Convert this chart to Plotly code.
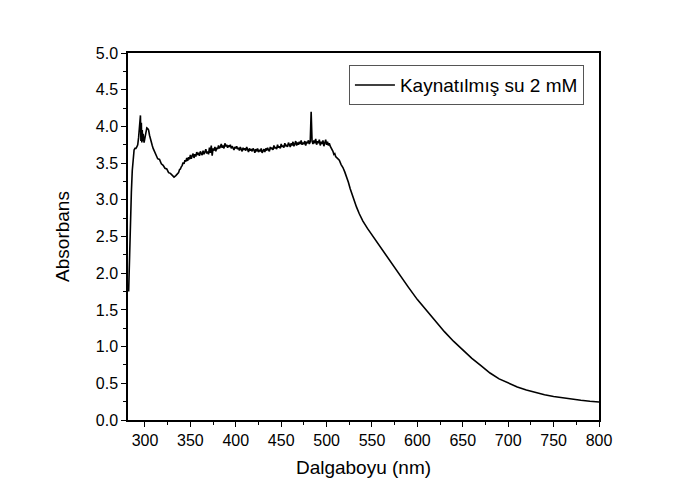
import plotly.graph_objects as go

# Rising edge and first peak region
wl_rise = [282, 283, 284, 285, 286, 287, 288, 289, 290, 291, 292, 293, 294, 295, 295.5, 296, 296.5, 297, 297.5,
           298, 299, 300, 301, 302, 303, 304, 305, 306, 307, 308, 309, 310, 312, 314, 316, 318, 320, 322, 324,
           326, 328, 330, 332, 334]
abs_rise = [1.75, 2.3, 2.8, 3.1, 3.4, 3.62, 3.68, 3.70, 3.70, 3.72, 3.75, 3.85, 4.10, 4.15, 3.80, 4.05, 3.78, 3.95, 3.80,
            3.90, 3.78, 3.85, 3.95, 3.98, 3.97, 3.95, 3.88, 3.82, 3.76, 3.74, 3.70, 3.67, 3.63, 3.56, 3.55, 3.49, 3.47, 3.43, 3.42,
            3.37, 3.36, 3.33, 3.31, 3.33]

# Noisy plateau
wl_plateau = [336, 337, 338, 339, 340, 341, 342, 343, 344, 345,
              346, 347, 348, 349, 350, 351, 352, 353, 354, 355,
              356, 357, 358, 359, 360, 361, 362, 363, 364, 365,
              366, 367, 368, 369, 370, 371, 372, 373, 374, 375,
              376, 377, 378, 379, 380, 381, 382, 383, 384, 385,
              386, 387, 388, 389, 390, 391, 392, 393, 394, 395,
              396, 397, 398, 399, 400, 401, 402, 403, 404, 405,
              406, 407, 408, 409, 410, 411, 412, 413, 414, 415,
              416, 417, 418, 419, 420, 421, 422, 423, 424, 425,
              426, 427, 428, 429, 430, 431, 432, 433, 434, 435,
              436, 437, 438, 439, 440, 441, 442, 443, 444, 445,
              446, 447, 448, 449, 450, 451, 452, 453, 454, 455,
              456, 457, 458, 459, 460, 461, 462, 463, 464, 465,
              466, 467, 468, 469, 470, 471, 472, 473, 474, 475,
              476, 477, 478, 479, 480, 481, 482, 483, 484, 485,
              486, 487, 488, 489, 490, 491, 492, 493, 494, 495,
              496, 497, 498, 499, 500, 501, 502, 503, 504, 505,
              506, 507, 508, 509, 510]
abs_plateau = [3.36, 3.37, 3.41, 3.42, 3.45, 3.47, 3.51, 3.49, 3.54, 3.52,
               3.57, 3.53, 3.58, 3.55, 3.61, 3.56, 3.60, 3.63, 3.57, 3.62,
               3.59, 3.65, 3.61, 3.64, 3.60, 3.66, 3.63, 3.61, 3.67, 3.62,
               3.65, 3.69, 3.63, 3.66, 3.62, 3.71, 3.64, 3.74, 3.60, 3.70,
               3.67, 3.72, 3.66, 3.71, 3.69, 3.74, 3.70, 3.72, 3.76, 3.71,
               3.74, 3.70, 3.77, 3.73, 3.75, 3.71, 3.74, 3.72, 3.75, 3.70,
               3.73, 3.71, 3.68, 3.72, 3.70, 3.73, 3.69, 3.71, 3.67, 3.72,
               3.69, 3.66, 3.71, 3.68, 3.70, 3.67, 3.72, 3.68, 3.65, 3.70,
               3.67, 3.69, 3.66, 3.70, 3.68, 3.64, 3.69, 3.66, 3.70, 3.65,
               3.68, 3.66, 3.70, 3.64, 3.67, 3.69, 3.65, 3.70, 3.67, 3.71,
               3.68, 3.66, 3.72, 3.69, 3.71, 3.68, 3.74, 3.70, 3.72, 3.69,
               3.75, 3.71, 3.73, 3.70, 3.76, 3.72, 3.74, 3.71, 3.77, 3.73,
               3.75, 3.72, 3.78, 3.74, 3.72, 3.77, 3.74, 3.79, 3.73, 3.76,
               3.80, 3.74, 3.78, 3.75, 3.79, 3.76, 3.81, 3.75, 3.78, 3.76,
               3.80, 3.74, 3.79, 3.77, 3.81, 3.76, 3.79, 4.20, 3.80, 3.76,
               3.81, 3.77, 3.83, 3.75, 3.80, 3.77, 3.82, 3.74, 3.79, 3.76,
               3.81, 3.73, 3.78, 3.82, 3.75, 3.79, 3.74, 3.77, 3.73, 3.71,
               3.68, 3.66, 3.62, 3.63, 3.59]

# Smooth decay to 800 nm
wl_decay = [512, 514, 516, 518, 520, 522, 524, 526, 528, 530, 533, 536, 540, 545, 550, 560, 570, 580, 590, 600,
            610, 620, 630, 640, 650, 660, 670, 680, 690, 700, 710, 720, 730, 740, 750, 760, 770, 780, 790, 800]
abs_decay = [3.56, 3.54, 3.48, 3.44, 3.38, 3.32, 3.24, 3.15, 3.07, 3.00, 2.90, 2.81, 2.71, 2.61, 2.52, 2.35, 2.17, 1.99, 1.81, 1.64,
             1.49, 1.34, 1.20, 1.07, 0.95, 0.84, 0.74, 0.64, 0.56, 0.50, 0.45, 0.41, 0.375, 0.345, 0.32, 0.30, 0.283, 0.268, 0.255, 0.245]

wavelength = wl_rise + wl_plateau + wl_decay
absorbance = abs_rise + abs_plateau + abs_decay

series_name = "Kaynatılmış su 2 mM"
x_title = "Dalgaboyu (nm)"
y_title = "Absorbans"

font_family = "Arial, Liberation Sans, sans-serif"

fig = go.Figure()
fig.add_trace(go.Scatter(x=wavelength, y=absorbance, mode="lines", name=series_name,
                         line=dict(color="black", width=1.6)))

axis_common = dict(showline=True, linecolor="black", linewidth=1.5, mirror=True,
                   ticks="outside", ticklen=5, tickwidth=1.2, tickcolor="black",
                   showgrid=False, zeroline=False,
                   tickfont=dict(family=font_family, size=16, color="black"))

fig.update_xaxes(range=[281.3, 800], tick0=300, dtick=50,
                 minor=dict(ticks="outside", ticklen=3, dtick=25, tick0=275, tickcolor="black", tickwidth=1.2),
                 title=dict(text=x_title, font=dict(family=font_family, size=19, color="black"), standoff=13),
                 **axis_common)
fig.update_yaxes(range=[0, 5], tick0=0, dtick=0.5, tickformat=".1f",
                 minor=dict(ticks="outside", ticklen=3, dtick=0.25, tickcolor="black", tickwidth=1.2),
                 title=dict(text=y_title, font=dict(family=font_family, size=19, color="black"), standoff=21),
                 **axis_common)

fig.update_layout(
    width=685, height=502,
    margin=dict(l=128, r=86, t=53, b=82),
    paper_bgcolor="white", plot_bgcolor="white",
    showlegend=True,
    legend=dict(x=0.968, y=0.967, xanchor="right", yanchor="top",
                bordercolor="#555555", borderwidth=1, bgcolor="white",
                font=dict(family=font_family, size=19, color="black"),
                itemwidth=40, tracegroupgap=0),
    font=dict(family=font_family),
)

fig.write_html("out.html")
